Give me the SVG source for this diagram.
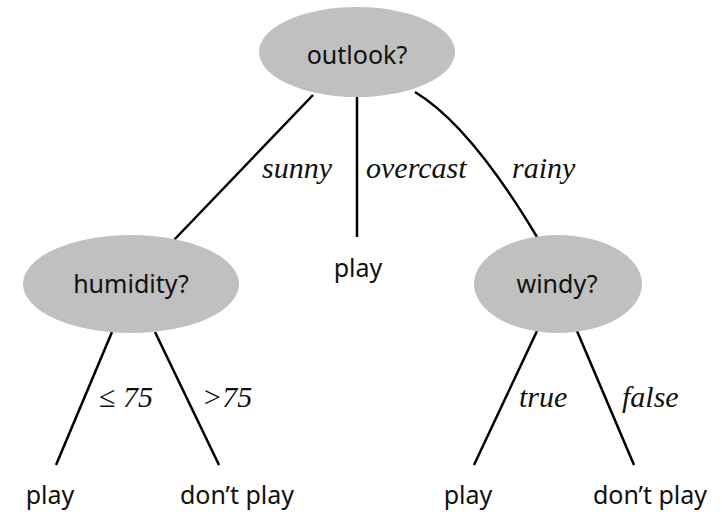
<svg xmlns="http://www.w3.org/2000/svg" width="722" height="512" viewBox="0 0 722 512">
<style>
.node ellipse{fill:#c0c0c0;stroke:none}
.t{font-family:"Noto Sans","Open Sans",sans-serif;font-size:25px;fill:#111;text-anchor:middle}
.lbl{font-family:"Liberation Serif",serif;font-style:italic;font-size:30px;fill:#111}
#edges path,#edges line{stroke:#000;stroke-width:2.5;fill:none}
</style>
<rect width="722" height="512" fill="#fff"/>
<g id="edges">
<line x1="313" y1="95" x2="174" y2="240"/>
<line x1="357" y1="96" x2="357" y2="237"/>
<path d="M415,92 Q470,125 537,237"/>
<line x1="112" y1="332" x2="56" y2="465"/>
<line x1="155" y1="332" x2="219" y2="465"/>
<line x1="537" y1="331" x2="474" y2="465"/>
<line x1="577" y1="331" x2="634" y2="465"/>
<text class="lbl" x="262" y="178">sunny</text>
<text class="lbl" x="366" y="178">overcast</text>
<text class="lbl" x="512" y="178">rainy</text>
<text class="lbl" x="99" y="407">≤ 75</text>
<text class="lbl" x="202" y="407">&gt;75</text>
<text class="lbl" x="519" y="407">true</text>
<text class="lbl" x="622" y="407">false</text>
</g>
<g id="outlook" class="node"><ellipse cx="357" cy="52" rx="98" ry="45"/><text class="t" x="357" y="64">outlook?</text></g>
<g id="humidity" class="node"><ellipse cx="131" cy="284" rx="108" ry="49"/><text class="t" x="131" y="293">humidity?</text></g>
<g id="windy" class="node"><ellipse cx="558" cy="284" rx="84" ry="49"/><text class="t" x="557" y="293">windy?</text></g>
<g id="leaf_overcast"><text class="t" x="358" y="277">play</text></g>
<g id="leaf_le75"><text class="t" x="50" y="504">play</text></g>
<g id="leaf_gt75"><text class="t" x="237" y="504">don’t play</text></g>
<g id="leaf_true"><text class="t" x="468" y="504">play</text></g>
<g id="leaf_false"><text class="t" x="650" y="504">don’t play</text></g>
</svg>
